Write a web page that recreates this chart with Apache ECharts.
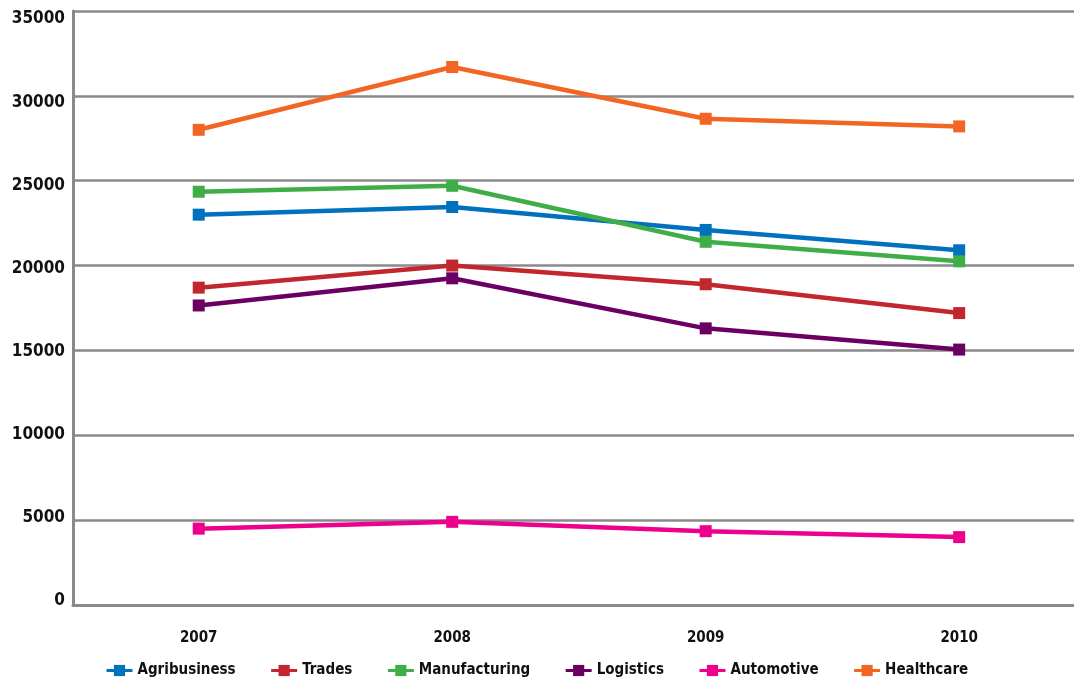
<!DOCTYPE html>
<html>
<head>
<meta charset="utf-8">
<title>Employment by sector</title>
<script src="https://cdn.jsdelivr.net/npm/echarts@6/dist/echarts.min.js"></script>
<style>
  html, body { margin: 0; padding: 0; background: #fff; }
  #main { width: 1074px; height: 685px; }
</style>
</head>
<body>
<div id="main"></div>
<script type="text/javascript">
    // data
    var years = ['2007', '2008', '2009', '2010'];
    var agribusiness = [23000, 23450, 22100, 20900];
    var trades = [18700, 20000, 18900, 17200];
    var manufacturing = [24350, 24700, 21400, 20250];
    var logistics = [17650, 19250, 16300, 15050];
    var automotive = [4500, 4900, 4350, 4000];
    var healthcare = [28000, 31700, 28650, 28200];
    var yTicks = [0, 5000, 10000, 15000, 20000, 25000, 30000, 35000];

    var seriesNames = ['Agribusiness', 'Trades', 'Manufacturing', 'Logistics', 'Automotive', 'Healthcare'];
    var seriesData = [agribusiness, trades, manufacturing, logistics, automotive, healthcare];
    var colors = ['#0071bc', '#c1272d', '#3fae49', '#6b0062', '#ec008c', '#f26522'];

    var cond = '"DejaVu Sans Condensed", "DejaVu Sans", sans-serif';
    var yearIdx = years.map(function (y, i) { return i; });

    var series = [];
    for (var i = 0; i < seriesNames.length; i++) {
        series.push({
            name: seriesNames[i],
            type: 'line',
            xAxisIndex: 0,
            yAxisIndex: 0,
            // x as year index so the plot can run past the right edge like the original
            data: seriesData[i].map(function (v, k) { return [k, v]; }),
            symbol: 'rect',
            symbolSize: 12,
            lineStyle: { width: 4.5, color: colors[i] },
            itemStyle: { color: colors[i] },
            emphasis: { disabled: true },
            z: 3 + i
        });
    }

    var myChart = echarts.init(document.getElementById('main'));

    var option = {
        animation: false,
        backgroundColor: '#ffffff',
        color: colors,
        grid: [
            { left: 73, top: 11, right: 0, bottom: 80 },
            // labels only, the original spaces them a bit off the gridlines
            { left: 73, top: 19, right: 0, bottom: 84 }
        ],
        legend: {
            bottom: 2,
            left: 100,
            itemWidth: 26,
            itemHeight: 14,
            itemGap: 34,
            lineStyle: { width: 3 },
            textStyle: { fontFamily: cond, fontWeight: 'bold', fontSize: 15, color: '#111' },
            data: seriesNames
        },
        xAxis: [{
            type: 'value',
            gridIndex: 0,
            min: -0.496,
            max: 3.453,
            splitLine: { show: false },
            axisLine: { onZero: false, lineStyle: { color: '#8a8a8c', width: 3 } },
            axisTick: { show: false },
            axisLabel: {
                customValues: yearIdx,
                margin: 26, fontFamily: cond, fontWeight: 'bold', fontSize: 15, color: '#111',
                formatter: function (v) { return years[Math.round(v)]; }
            }
        }, {
            type: 'value',
            gridIndex: 1,
            show: false
        }],
        yAxis: [{
            type: 'value',
            gridIndex: 0,
            min: 0,
            max: 35000,
            interval: 5000,
            axisLine: { show: true, onZero: false, lineStyle: { color: '#8a8a8c', width: 3 } },
            axisTick: { show: false },
            splitLine: { lineStyle: { color: '#8a8a8c', width: 2.5 } },
            axisLabel: { show: false }
        }, {
            type: 'value',
            gridIndex: 1,
            min: 0,
            max: 35000,
            axisLine: { show: false, onZero: false },
            axisTick: { show: false },
            splitLine: { show: false },
            axisLabel: {
                customValues: yTicks,
                margin: 8, fontFamily: cond, fontWeight: 'bold', fontSize: 17, color: '#111',
                formatter: function (v) { return String(v); }
            }
        }],
        series: series
    };

    myChart.setOption(option);
</script>
</body>
</html>
